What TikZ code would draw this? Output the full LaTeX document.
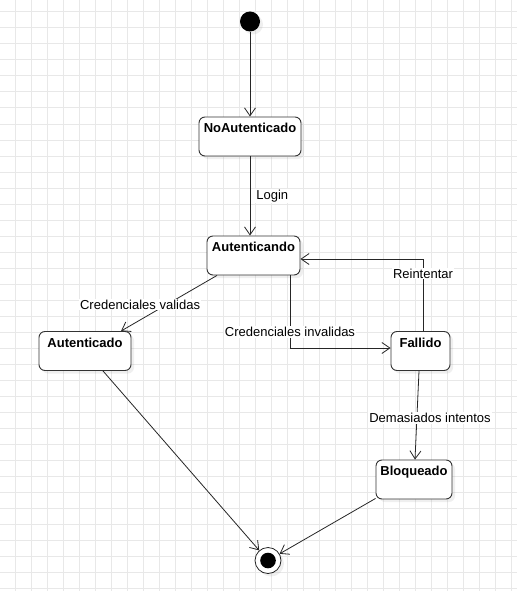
\documentclass[tikz,border=0pt]{standalone}
\usepackage{fontspec}
\setmainfont{Liberation Sans}
\usetikzlibrary{arrows.meta,shadows}

\tikzset{
  rejilla/.style={draw=black!9, line width=1pt},
  estado/.style={draw=black!80, fill=white, rounded corners=6pt, line width=0.9pt,
    inner sep=0pt, text height=15.5pt, text depth=23.5pt,
    font=\bfseries\fontsize{13}{15}\selectfont,
    drop shadow={opacity=0.12, shadow xshift=3pt, shadow yshift=-3pt}},
  flecha/.style={draw=black!85, line width=0.8pt, -{Straight Barb[length=8pt,width=11pt]}},
  etiqueta/.style={fill=white, inner sep=1pt, font=\fontsize{13}{15}\selectfont},
}

\begin{document}
\begin{tikzpicture}[x=1pt,y=-1pt]
  \useasboundingbox (0,0) rectangle (517,591);
  \fill[white] (0,0) rectangle (517,591);
  % grid
  \foreach \x in {15,31,...,511} \draw[rejilla] (\x,0) -- (\x,591);
  \foreach \y in {12,28,...,588} \draw[rejilla] (0,\y) -- (517,\y);

  % states
  \node[circle, fill=black, minimum size=20pt, inner sep=0pt,
        drop shadow={opacity=0.12, shadow xshift=3pt, shadow yshift=-3pt}] (ini) at (250,21.5) {};
  \node[estado, minimum width=102pt] (na) at (250,136.5) {NoAutenticado};
  \node[estado, minimum width=93pt] (autg) at (253.5,255.5) {Autenticando};
  \node[estado, minimum width=92pt] (autd) at (85,351) {Autenticado};
  \node[estado, minimum width=59pt] (fall) at (420.5,351) {Fallido};
  \node[estado, minimum width=76pt] (bloq) at (414,479.5) {Bloqueado};
  \node[circle, draw=black!85, fill=white, line width=0.8pt, minimum size=26pt, inner sep=0pt,
        drop shadow={opacity=0.12, shadow xshift=3pt, shadow yshift=-3pt}] (fin) at (268,560.5) {};
  \fill (fin) circle (7.8pt);

  % transitions
  \draw[flecha] (ini) -- (na);
  \draw[flecha] (na) -- node[etiqueta, right=5pt] {Login} (na.south |- autg.north);
  \draw[flecha] ([xshift=-36.5pt]autg.south) -- node[etiqueta, pos=0.52, xshift=-27pt] {Credenciales validas} ([xshift=36pt]autd.north);
  \draw[flecha] ([xshift=36.5pt]autg.south) |- node[etiqueta, pos=0.39] {Credenciales invalidas} ([yshift=3pt]fall.west);
  \draw[flecha] ([xshift=2.5pt]fall.north) |- node[etiqueta, pos=0.4] {Reintentar} ([yshift=-3.5pt]autg.east);
  \draw[flecha] ([xshift=-1.5pt]fall.south) -- node[etiqueta, pos=0.5, xshift=13pt, yshift=-3pt] {Demasiados intentos} ([xshift=1pt]bloq.north);
  \draw[flecha] ([xshift=18pt]autd.south) -- (fin);
  \draw[flecha] ([yshift=1pt]bloq.south west) -- (fin);
\end{tikzpicture}
\end{document}
